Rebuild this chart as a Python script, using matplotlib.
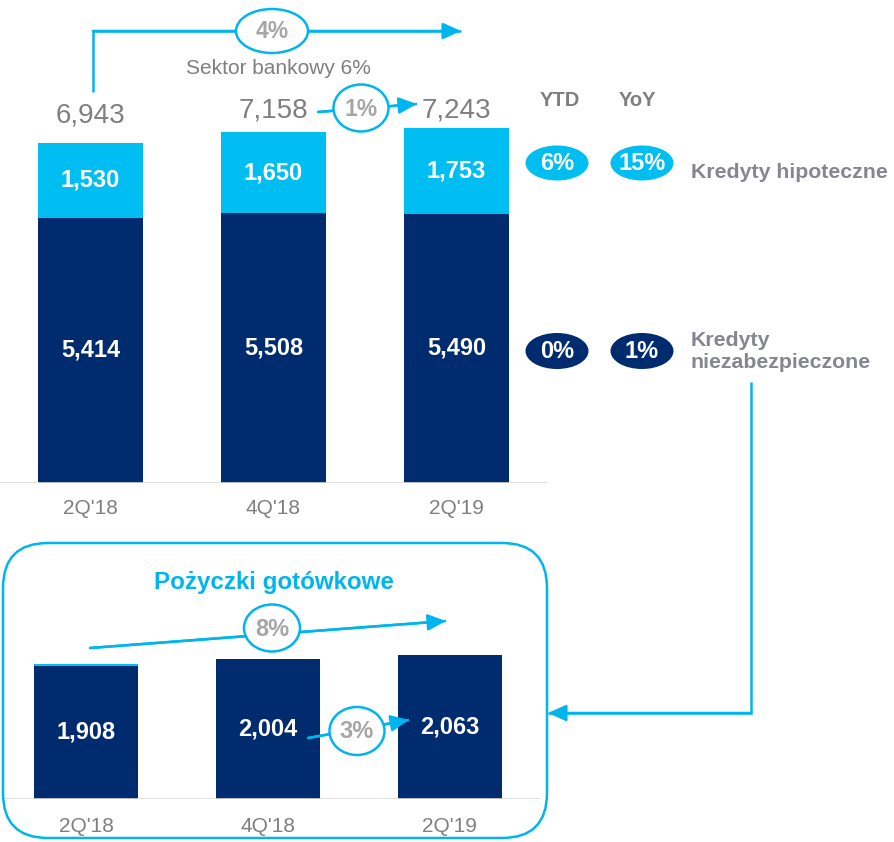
import numpy as np
import matplotlib
matplotlib.use('Agg')
import matplotlib.pyplot as plt
from matplotlib.patches import Ellipse, FancyBboxPatch

plt.rcParams['font.family'] = ['Liberation Sans', 'DejaVu Sans']

# dane
kwartaly = ["2Q'18", "4Q'18", "2Q'19"]
niezabezpieczone = [5414, 5508, 5490]
hipoteczne = [1530, 1650, 1753]
razem = [6943, 7158, 7243]
gotowkowe = [1908, 2004, 2063]
gotowkowe_reszta = [25, 0, 0]  # cienki pasek na pierwszym slupku

naglowki = ['YTD', 'YoY']
zmiany_hip = ['6%', '15%']
zmiany_niezab = ['0%', '1%']
segmenty = ['Kredyty hipoteczne', 'Kredyty\nniezabezpieczone']

wzrost_yoy = '4%'
wzrost_ytd = '1%'
sektor = 'Sektor bankowy 6%'
tytul_got = 'Pożyczki gotówkowe'
got_yoy = '8%'
got_ytd = '3%'

NAVY = '#002B6E'
CYAN = '#00BEF2'
LINE = '#00B5EE'
GREY = '#7F7F7F'
LGREY = '#85868F'
PCT = '#A6A6A6'
AXIS = '#D9D9D9'

W, H = 894, 842
fig = plt.figure(figsize=(W / 100, H / 100), dpi=100)

x = np.arange(len(kwartaly))

# gorny wykres
ax1 = fig.add_axes([0, (H - 483) / H, 548 / W, 483 / H])
ax1.bar(x, niezabezpieczone, width=0.574, color=NAVY)
ax1.bar(x, hipoteczne, bottom=niezabezpieczone, width=0.574, color=CYAN)
ax1.set_xlim(-0.4945, 2.5)
ax1.set_ylim(0, 9855)
ax1.axis('off')
ax1.axhline(0, color=AXIS, lw=1.2)
for i in x:
    n, h = niezabezpieczone[i], hipoteczne[i]
    ax1.text(i, n / 2, f'{n:,}', ha='center', va='center', color='white',
             fontsize=17, fontweight='bold')
    ax1.text(i, n + h / 2, f'{h:,}', ha='center', va='center', color='white',
             fontsize=17, fontweight='bold')
for i, off in zip(x, [27, 22, 18]):
    ax1.annotate(f'{razem[i]:,}', xy=(i, razem[i]), xytext=(0, off),
                 textcoords='offset pixels', ha='center', va='center',
                 fontsize=20, color=GREY)
    ax1.annotate(kwartaly[i], xy=(i, 0), xytext=(0, -25),
                 textcoords='offset pixels', ha='center', va='center',
                 fontsize=15, color=GREY)

# dolny wykres
ax2 = fig.add_axes([3 / W, (H - 799) / H, 537 / W, 199 / H])
ax2.bar(x, gotowkowe, width=0.571, color=NAVY)
ax2.bar(x, gotowkowe_reszta, bottom=gotowkowe, width=0.571, color=CYAN)
ax2.set_xlim(-0.456, 2.495)
ax2.set_ylim(0, 2847)
ax2.axis('off')
ax2.axhline(0, color=AXIS, lw=1.2)
for i in x:
    ax2.text(i, gotowkowe[i] / 2, f'{gotowkowe[i]:,}', ha='center', va='center',
             color='white', fontsize=17, fontweight='bold')
    ax2.annotate(kwartaly[i], xy=(i, 0), xytext=(0, -27),
                 textcoords='offset pixels', ha='center', va='center',
                 fontsize=15, color=GREY)

# warstwa z adnotacjami (wspolrzedne w pikselach)
ov = fig.add_axes([0, 0, 1, 1])
ov.set_xlim(0, W)
ov.set_ylim(H, 0)
ov.axis('off')


def strzalka(xs, ys):
    ov.plot(xs, ys, color=LINE, lw=1.8, zorder=2,
            solid_joinstyle='miter', solid_capstyle='butt')
    ov.annotate('', xy=(xs[-1], ys[-1]), xytext=(xs[-2], ys[-2]),
                arrowprops=dict(arrowstyle='-|>,head_length=1.0,head_width=0.45',
                                color=LINE, lw=1.8, shrinkA=0, shrinkB=0,
                                mutation_scale=11), zorder=2)


def kolko(cx, cy, w, h, txt, size):
    ov.add_patch(Ellipse((cx, cy), w, h, facecolor='white', edgecolor=LINE,
                         lw=1.8, zorder=3))
    ov.text(cx, cy + 1, txt, ha='center', va='center', fontsize=size,
            fontweight='bold', color=PCT, zorder=4)


strzalka([93, 93, 461], [92, 31, 31])
kolko(272, 31, 72, 44, wzrost_yoy, 16.5)
ov.text(278, 69, sektor, ha='center', va='center', fontsize=15, color=GREY)

strzalka([318, 417], [112, 104])
kolko(361, 108, 55, 47, wzrost_ytd, 16.5)

# legenda po prawej
for cx, txt in zip([560, 637], naglowki):
    ov.text(cx, 100, txt, ha='center', va='center', fontsize=14.5,
            fontweight='bold', color=GREY)
for cx, a, b in zip([557, 642], zmiany_hip, zmiany_niezab):
    ov.add_patch(Ellipse((cx, 163), 63, 35, color=CYAN, lw=0))
    ov.text(cx, 164, a, ha='center', va='center', fontsize=17,
            fontweight='bold', color='white')
    ov.add_patch(Ellipse((cx, 351), 63, 36, color=NAVY, lw=0))
    ov.text(cx, 352, b, ha='center', va='center', fontsize=17,
            fontweight='bold', color='white')
ov.text(691, 172, segmenty[0], ha='left', va='center', fontsize=15.3,
        fontweight='bold', color=LGREY)
ov.text(691, 351, segmenty[1], ha='left', va='center', fontsize=15.3,
        fontweight='bold', color=LGREY, linespacing=1.2)

strzalka([751, 751, 548], [382, 713, 713])

# ramka pozyczek gotowkowych
ov.add_patch(FancyBboxPatch((3, 543), 544, 295,
                            boxstyle='round,pad=0,rounding_size=45',
                            fill=False, ec=LINE, lw=1.8))
ov.text(274, 583, tytul_got, ha='center', va='center', fontsize=17.4,
        fontweight='bold', color=LINE)

strzalka([90, 446], [648, 621])
kolko(272, 628, 56, 47, got_yoy, 17)
strzalka([308, 409], [738, 720])
kolko(357, 731, 55, 48, got_ytd, 17)

fig.savefig('out.png', dpi=100)
